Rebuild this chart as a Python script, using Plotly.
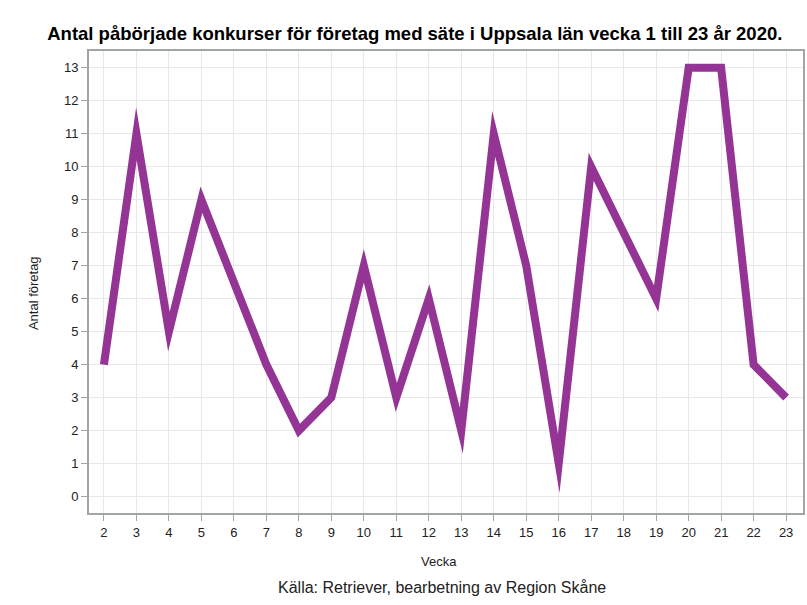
import plotly.graph_objects as go

weeks = list(range(2, 24))
counts = [4, 11, 5, 9, 6.5, 4, 2, 3, 7, 3, 6, 2, 11, 7, 1, 10, 8, 6, 13, 13, 4, 3]
y_ticks = list(range(0, 14))

title_text = "Antal påbörjade konkurser för företag med säte i Uppsala län vecka 1 till 23 år 2020."
x_title = "Vecka"
y_title = "Antal företag"
source_text = "Källa: Retriever, bearbetning av Region Skåne"

font_family = "Liberation Sans, Arial, sans-serif"
axis_col = "#a0a6a6"

fig = go.Figure()
fig.add_trace(go.Scatter(
    x=weeks, y=counts, mode="lines",
    line=dict(color="#943494", width=8),
    hoverinfo="x+y", showlegend=False,
))

fig.update_layout(
    width=807, height=605,
    margin=dict(l=89, r=4, t=51, b=92),
    paper_bgcolor="white", plot_bgcolor="white",
    font=dict(family=font_family, size=13, color="#222"),
    title=dict(text="<b>" + title_text + "</b>", x=0.514, xanchor="center",
               y=0.945, yanchor="middle", font=dict(size=18.5, color="#000")),
    xaxis=dict(
        range=[1.54, 23.52], tickvals=weeks, ticktext=[str(w) for w in weeks],
        showgrid=True, gridcolor="#e8e8e8", gridwidth=1,
        ticks="outside", ticklen=6, tickcolor=axis_col,
        showline=True, linecolor=axis_col, linewidth=2, mirror=True,
        zeroline=False, tickfont=dict(size=13, color="#222"),
        automargin=False,
    ),
    yaxis=dict(
        range=[-0.5, 13.51], tickvals=y_ticks,
        showgrid=True, gridcolor="#e8e8e8", gridwidth=1,
        ticks="outside", ticklen=6, tickcolor=axis_col,
        showline=True, linecolor=axis_col, linewidth=2, mirror=True,
        zeroline=False, tickfont=dict(size=13, color="#222"),
        automargin=False,
    ),
    annotations=[
        dict(text=x_title, xref="paper", yref="paper",
             x=0.49, y=-0.106, xanchor="center", yanchor="middle",
             showarrow=False, font=dict(size=13, color="#222")),
        dict(text=y_title, xref="paper", yref="paper", textangle=-90,
             x=-0.0784, y=0.476, xanchor="center", yanchor="middle",
             showarrow=False, font=dict(size=13, color="#222")),
        dict(text=source_text, xref="paper", yref="paper",
             x=0.494, y=-0.162, xanchor="center", yanchor="middle",
             showarrow=False, font=dict(size=16, color="#222")),
    ],
)

post = """
var s = document.createElement('style');
s.innerHTML = 'html, body { margin: 0 !important; padding: 0 !important; } .scatterlayer .js-line { stroke-miterlimit: 12 !important; stroke-linejoin: miter !important; }';
document.head.appendChild(s);
"""
fig.write_html("out.html", post_script=post, config={"displayModeBar": False})
